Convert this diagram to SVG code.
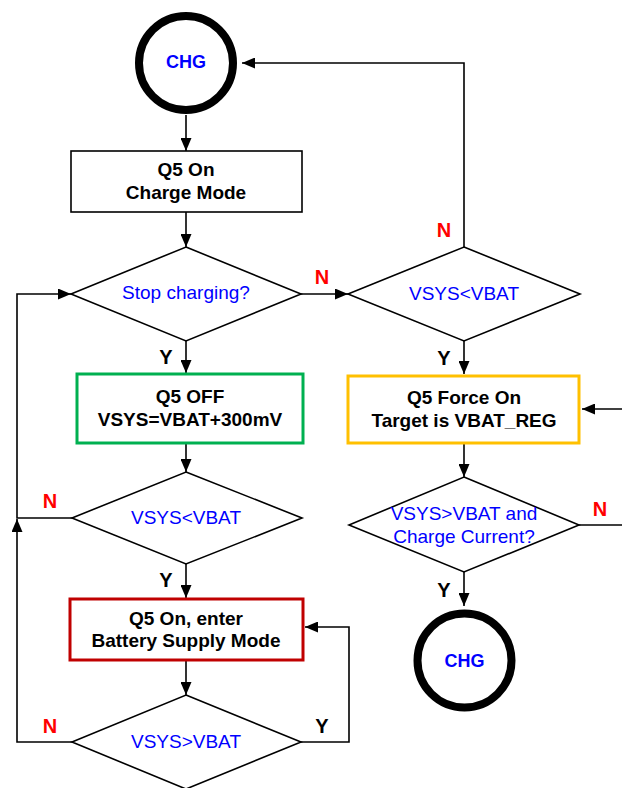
<svg xmlns="http://www.w3.org/2000/svg" width="622" height="788" viewBox="0 0 622 788">
<style>
.t{font-family:"Liberation Sans",Arial,sans-serif;text-anchor:middle}
.b{font-weight:bold;font-size:19px;fill:#000}
.q{font-size:19px;fill:#0000FF}
.lab{font-weight:bold;font-size:20px}
.n{fill:#FF0000}
.y{fill:#000}
.c{fill:#0000FF;font-weight:bold;font-size:18px}
.d{fill:#fff;stroke:#000;stroke-width:1.6}
.circ{fill:#fff;stroke:#000;stroke-width:8}
.ln{fill:none;stroke:#000;stroke-width:1.6;marker-end:url(#ah)}
.ln2{fill:none;stroke:#000;stroke-width:1.6}
</style>
<defs>
<marker id="ah" viewBox="0 0 13 11" refX="13" refY="5.5" markerWidth="13" markerHeight="11" markerUnits="userSpaceOnUse" orient="auto">
<path d="M0,0 L13,5.5 L0,11 z" fill="#000"/>
</marker>
</defs>
<rect width="622" height="788" fill="#fff"/>
<g id="connectors">
<path class="ln" d="M186,115 V151"/>
<path class="ln" d="M186,212 V247"/>
<path class="ln" d="M301,294 H348"/>
<path class="ln" d="M464,247 V63 H242"/>
<path class="ln" d="M186,341 V373"/>
<path class="ln" d="M186,443 V472"/>
<path class="ln" d="M72,518 H17 V294 H71"/>
<path class="ln" d="M186,564 V598"/>
<path class="ln" d="M186,660 V695"/>
<path class="ln" d="M72,742 H17 V519"/>
<path class="ln" d="M301,742 H349 V627 H305"/>
<path class="ln" d="M464,341 V374"/>
<path class="ln" d="M622,409 H582"/>
<path class="ln" d="M464,443 V477"/>
<path class="ln2" d="M579,525 H622"/>
<path class="ln" d="M464,572 V606"/>
<text class="t lab n" x="322" y="284">N</text>
<text class="t lab n" x="444" y="237">N</text>
<text class="t lab y" x="166" y="364">Y</text>
<text class="t lab y" x="444" y="365">Y</text>
<text class="t lab n" x="50" y="508">N</text>
<text class="t lab y" x="166" y="587">Y</text>
<text class="t lab n" x="600" y="516">N</text>
<text class="t lab y" x="444" y="597">Y</text>
<text class="t lab n" x="50" y="733">N</text>
<text class="t lab y" x="322" y="733">Y</text>
</g>
<g id="chg-top">
<circle class="circ" cx="186" cy="63" r="47"/>
<text class="t c" x="186" y="68">CHG</text>
</g>
<g id="charge-mode">
<rect x="71" y="151" width="231" height="61" fill="#fff" stroke="#000" stroke-width="1.6"/>
<text class="t b" x="186" y="176">Q5 On</text>
<text class="t b" x="186" y="199">Charge Mode</text>
</g>
<g id="stop-charging">
<polygon class="d" points="186,247 301,294 186,341 71,294"/>
<text class="t q" x="186" y="299">Stop charging?</text>
</g>
<g id="vsys-lt-vbat-right">
<polygon class="d" points="464,247 580,294 464,341 348,294"/>
<text class="t q" x="464" y="300">VSYS&lt;VBAT</text>
</g>
<g id="q5-off">
<rect x="77" y="374" width="226" height="69" fill="#fff" stroke="#00B050" stroke-width="3"/>
<text class="t b" x="190" y="403">Q5 OFF</text>
<text class="t b" x="190" y="426">VSYS=VBAT+300mV</text>
</g>
<g id="force-on">
<rect x="348" y="376" width="231" height="67" fill="#fff" stroke="#FFC000" stroke-width="3"/>
<text class="t b" x="464" y="404">Q5 Force On</text>
<text class="t b" x="464" y="427">Target is VBAT_REG</text>
</g>
<g id="vsys-lt-vbat-left">
<polygon class="d" points="186,472 302,518 186,564 72,518"/>
<text class="t q" x="186" y="524">VSYS&lt;VBAT</text>
</g>
<g id="vsys-gt-vbat-charge">
<polygon class="d" points="464,477 579,525 464,572 349,525"/>
<text class="t q" x="464" y="520">VSYS&gt;VBAT and</text>
<text class="t q" x="464" y="543">Charge Current?</text>
</g>
<g id="battery-supply">
<rect x="70" y="599" width="233" height="61" fill="#fff" stroke="#C00000" stroke-width="3"/>
<text class="t b" x="186" y="625">Q5 On, enter</text>
<text class="t b" x="186" y="647">Battery Supply Mode</text>
</g>
<g id="vsys-gt-vbat">
<polygon class="d" points="186,695 301,742 186,789 72,742"/>
<text class="t q" x="186" y="748">VSYS&gt;VBAT</text>
</g>
<g id="chg-bottom">
<circle class="circ" cx="464.5" cy="660.5" r="47"/>
<text class="t c" x="464.5" y="667">CHG</text>
</g>
</svg>
